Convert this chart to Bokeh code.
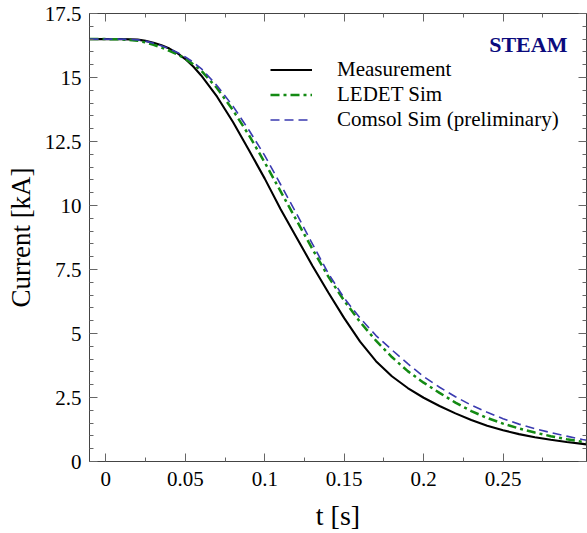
import numpy as np
from bokeh.plotting import figure
from bokeh.models import (Range1d, LinearAxis, FixedTicker, CustomJSTickFormatter,
                          Legend, LegendItem, Label)
from bokeh.embed import file_html
from bokeh.resources import INLINE

# ---- data ----
t = [-0.0103, 0.0, 0.01, 0.02, 0.025, 0.03, 0.035, 0.04, 0.045, 0.05, 0.055, 0.06,
     0.07, 0.08, 0.09, 0.10, 0.11, 0.12, 0.13, 0.14, 0.15, 0.16, 0.17, 0.18, 0.19,
     0.20, 0.21, 0.22, 0.23, 0.24, 0.25, 0.26, 0.27, 0.28, 0.29, 0.30, 0.3025]

measurement = [16.5, 16.5, 16.5, 16.48, 16.43, 16.36, 16.26, 16.13, 15.95, 15.72, 15.43, 15.08,
               14.25, 13.26, 12.17, 11.05, 9.85, 8.75, 7.65, 6.6, 5.6, 4.68, 3.92, 3.33, 2.87,
               2.49, 2.17, 1.88, 1.62, 1.40, 1.22, 1.07, 0.95, 0.85, 0.76, 0.69, 0.67]

ledet = [16.5, 16.5, 16.49, 16.44, 16.37, 16.28, 16.17, 16.04, 15.9, 15.73, 15.52, 15.27,
         14.58, 13.72, 12.75, 11.68, 10.55, 9.42, 8.3, 7.22, 6.28, 5.45, 4.72, 4.08, 3.53,
         3.08, 2.68, 2.30, 1.97, 1.70, 1.48, 1.29, 1.13, 0.99, 0.87, 0.77, 0.75]

comsol = [16.5, 16.5, 16.5, 16.47, 16.42, 16.34, 16.24, 16.12, 15.98, 15.8, 15.6, 15.35,
          14.68, 13.88, 12.95, 11.95, 10.82, 9.68, 8.5, 7.35, 6.38, 5.6, 4.92, 4.36, 3.82,
          3.32, 2.9, 2.53, 2.2, 1.92, 1.67, 1.46, 1.28, 1.13, 0.99, 0.86, 0.83]

x_ticks = [0, 0.05, 0.1, 0.15, 0.2, 0.25]
x_minor = [0.025, 0.075, 0.125, 0.175, 0.225, 0.275]
y_ticks = [0, 2.5, 5, 7.5, 10, 12.5, 15, 17.5]
y_minor = [round(v, 2) for v in np.arange(0, 17.51, 0.5)]

legend_labels = ["Measurement", "LEDET Sim", "Comsol Sim (preliminary)"]
x_label = "t [s]"
y_label = "Current [kA]"
badge = "STEAM"

SERIF = "Liberation Serif"

p = figure(width=587, height=533, output_backend="svg", toolbar_location=None,
           x_range=Range1d(-0.0103, 0.3025), y_range=Range1d(0, 17.5),
           min_border_left=89, min_border_right=1, min_border_top=13, min_border_bottom=72,
           x_axis_location=None, y_axis_location=None)
p.xgrid.visible = False
p.ygrid.visible = False
p.outline_line_color = "#444444"
p.background_fill_color = "white"
p.border_fill_color = "white"

fmt = CustomJSTickFormatter(code="return String(Math.round(tick*1000)/1000);")
blank = CustomJSTickFormatter(code="return '';")


def style_axis(ax, ticks, minors, show):
    ax.ticker = FixedTicker(ticks=ticks, minor_ticks=minors)
    ax.major_tick_in = 8
    ax.major_tick_out = 0
    ax.minor_tick_in = 4
    ax.minor_tick_out = 0
    ax.axis_line_color = "#444444"
    ax.major_tick_line_color = "#666666"
    ax.minor_tick_line_color = "#666666"
    ax.major_label_text_font = SERIF
    ax.major_label_text_color = "black"
    if show:
        ax.formatter = fmt
        ax.major_label_text_font_size = "21px"
    else:
        ax.formatter = blank
        ax.major_label_text_font_size = "1px"
        ax.major_label_standoff = 0


xb = LinearAxis()
style_axis(xb, x_ticks, x_minor, True)
xb.major_label_standoff = 10
xb.axis_label = x_label
xb.axis_label_text_font = SERIF
xb.axis_label_text_font_size = "28px"
xb.axis_label_text_font_style = "normal"
xb.axis_label_text_color = "black"
xb.axis_label_standoff = 11
p.add_layout(xb, "below")

yl = LinearAxis()
style_axis(yl, y_ticks, y_minor, True)
yl.major_label_standoff = 8
yl.axis_label = y_label
yl.axis_label_text_font = SERIF
yl.axis_label_text_font_size = "27px"
yl.axis_label_text_font_style = "normal"
yl.axis_label_text_color = "black"
yl.axis_label_standoff = 6
p.add_layout(yl, "left")

xa = LinearAxis()
style_axis(xa, x_ticks, x_minor, False)
p.add_layout(xa, "above")

yr = LinearAxis()
style_axis(yr, y_ticks, y_minor, False)
p.add_layout(yr, "right")

r_meas = p.line(t, measurement, line_color="black", line_width=2.1)
r_ledet = p.line(t, ledet, line_color="#138a13", line_width=2.5, line_dash="9 4 3 4")
r_comsol = p.line(t, comsol, line_color="#3a3ab0", line_width=1.6, line_dash="9 5")

legend = Legend(items=[LegendItem(label=legend_labels[0], renderers=[r_meas]),
                       LegendItem(label=legend_labels[1], renderers=[r_ledet]),
                       LegendItem(label=legend_labels[2], renderers=[r_comsol])],
                location=(181, 329), glyph_width=42, glyph_height=25, label_height=25,
                spacing=0, padding=0, margin=0, label_standoff=25,
                border_line_color=None, background_fill_alpha=0,
                label_text_font=SERIF, label_text_font_size="21px", label_text_color="black")
p.add_layout(legend)

p.add_layout(Label(x=0.2905, y=16.28, text=badge, text_align="right", text_baseline="alphabetic",
                   text_font=SERIF, text_font_size="22px", text_font_style="bold",
                   text_color="#0b0b7d"))

open("out.html", "w").write(file_html(p, INLINE))
